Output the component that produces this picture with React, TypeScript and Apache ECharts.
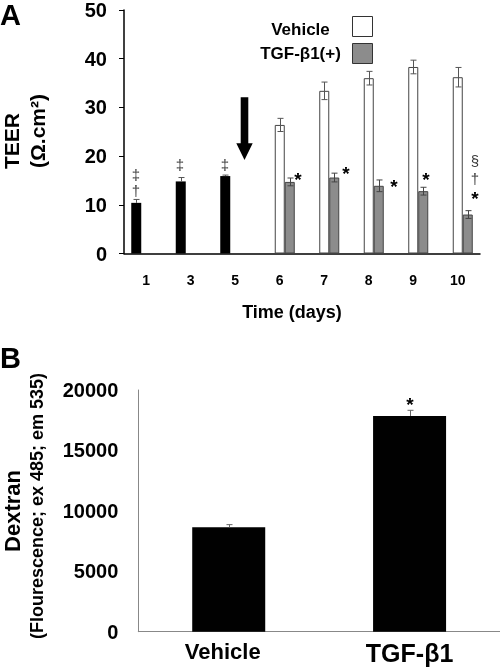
import React, { useEffect, useRef } from 'react';
import * as echarts from 'echarts';

// ---------- Panel A data (TEER, Ω.cm²) ----------
const days = ['1', '3', '5', '6', '7', '8', '9', '10'];
const pretreat = [10.4, 14.8, 15.9, null, null, null, null, null];
const pretreatErr = [0.7, 0.8, 0.2, null, null, null, null, null];
const vehicle = [null, null, null, 26.4, 33.4, 36.0, 38.3, 36.2];
const vehicleErr = [null, null, null, 1.35, 1.8, 1.4, 1.4, 2.0];
const tgf = [null, null, null, 14.7, 15.6, 13.9, 12.8, 8.0];
const tgfErr = [null, null, null, 0.8, 0.9, 1.2, 0.8, 0.8];
const teerMin = 0;
const teerMax = 50;
const teerStep = 10;

// significance marks (panel A): text, day index, value height
const markText = ['‡', '†', '‡', '‡', '*', '*', '*', '*', '*', '†', '§'];
const markDay = [0, 0, 1, 2, 3, 4, 5, 6, 7, 7, 7];
const markValue = [16.3, 13.1, 18.3, 18.3, 16.3, 17.6, 14.9, 16.3, 12.4, 15.6, 19.2];

// ---------- Panel B data (Dextran fluorescence) ----------
const groupsB = ['Vehicle', 'TGF-β1'];
const dextran = [8640, 17850];
const dextranErr = [220, 470];
const dextranMin = 0;
const dextranMax = 20000;
const dextranStep = 5000;
const markBText = ['*'];
const markBGroup = [1];
const markBValue = [19250];

// ---------- styles ----------
const FONT = '"Liberation Sans", Arial, Helvetica, sans-serif';
const BAR_W = 10;
const markDx = [-10.5, -10.5, -10.7, -10.3, 18.5, 21.7, 25.2, 12.4, 17.2, 17.2, 17.2];

function errSeries(
  vals: (number | null)[],
  errs: (number | null)[],
  offset: number,
  cap: number,
  color: string,
  both: boolean,
  xAxisIndex: number,
  yAxisIndex: number
) {
  const data = vals
    .map((v, i) => (v == null || errs[i] == null ? null : [i, v, errs[i]]))
    .filter((d) => d !== null);
  return {
    type: 'custom',
    xAxisIndex,
    yAxisIndex,
    z: 10,
    silent: true,
    data,
    renderItem: (_params: any, api: any) => {
      const i = api.value(0);
      const v = api.value(1);
      const e = api.value(2);
      const top = api.coord([i, v + e]);
      const bot = api.coord([i, both ? v - e : v]);
      const x = Math.round(top[0] + offset) + 0.5;
      const style = { stroke: color, lineWidth: 1 };
      const children: any[] = [
        { type: 'line', shape: { x1: x, y1: top[1], x2: x, y2: bot[1] }, style },
        { type: 'line', shape: { x1: x - cap, y1: top[1], x2: x + cap, y2: top[1] }, style },
      ];
      if (both) {
        children.push({ type: 'line', shape: { x1: x - cap, y1: bot[1], x2: x + cap, y2: bot[1] }, style });
      }
      return { type: 'group', children };
    },
  };
}

function markSeries(
  texts: string[],
  cats: number[],
  vals: number[],
  dxs: number[],
  xAxisIndex: number,
  yAxisIndex: number
) {
  return {
    type: 'custom',
    xAxisIndex,
    yAxisIndex,
    z: 11,
    silent: true,
    data: cats.map((c, k) => [c, vals[k]]),
    renderItem: (params: any, api: any) => {
      const k = params.dataIndex;
      const p = api.coord([api.value(0), api.value(1)]);
      const t = texts[k];
      const isStar = t === '*';
      return {
        type: 'text',
        x: Math.round(p[0] + dxs[k]),
        y: Math.round(p[1] + (isStar ? 5 : 0)),
        style: {
          text: t,
          fill: isStar ? '#000' : '#3a3a3a',
          font: isStar ? `bold 19px ${FONT}` : `15px ${FONT}`,
          align: 'center',
          verticalAlign: 'middle',
        },
      };
    },
  };
}

export default function App() {
  const ref = useRef<HTMLDivElement>(null);

  useEffect(() => {
    if (!ref.current) return;
    const chart = echarts.init(ref.current, undefined, { renderer: 'svg' });

    const option: any = {
      animation: false,
      backgroundColor: '#fff',
      textStyle: { fontFamily: FONT },
      grid: [
        { left: 124, top: 7, width: 356, height: 246.5 },
        { left: 138.3, top: 390, width: 361.7, height: 241.7 },
      ],
      xAxis: [
        {
          type: 'category',
          gridIndex: 0,
          data: days,
          axisLine: { lineStyle: { color: '#000', width: 1.5 } },
          axisTick: { show: false },
          axisLabel: { margin: 19, color: '#000', fontWeight: 'bold', fontSize: 14, fontFamily: FONT },
        },
        {
          type: 'category',
          gridIndex: 1,
          data: groupsB,
          axisLine: { lineStyle: { color: '#888', width: 1 } },
          axisTick: { show: false },
          axisLabel: {
            margin: 9,
            color: '#000',
            formatter: (v: string) => (v === 'Vehicle' ? `{a|${v}}` : `{b|${v}}`),
            rich: {
              a: { fontSize: 22, fontWeight: 'bold', fontFamily: FONT, color: '#000', padding: [0, 12, 0, 0] },
              b: { fontSize: 25, fontWeight: 'bold', fontFamily: FONT, color: '#000' },
            },
          },
        },
      ],
      yAxis: [
        {
          type: 'value',
          gridIndex: 0,
          min: teerMin,
          max: teerMax,
          interval: teerStep,
          splitLine: { show: false },
          axisLine: { show: true, lineStyle: { color: '#000', width: 1.5 } },
          axisTick: { show: true, length: 5, lineStyle: { color: '#000' } },
          axisLabel: { margin: 17, color: '#000', fontWeight: 'bold', fontSize: 20, fontFamily: FONT },
        },
        {
          type: 'value',
          gridIndex: 1,
          min: dextranMin,
          max: dextranMax,
          interval: dextranStep,
          splitLine: { show: false },
          axisLine: { show: true, lineStyle: { color: '#888', width: 1 } },
          axisTick: { show: false },
          axisLabel: {
            margin: 20,
            color: '#000',
            fontWeight: 'bold',
            fontSize: 20,
            fontFamily: FONT,
            formatter: (v: number) => String(v),
          },
        },
      ],
      series: [
        {
          name: 'Pre-treatment',
          type: 'bar',
          xAxisIndex: 0,
          yAxisIndex: 0,
          data: pretreat,
          barWidth: BAR_W,
          barGap: '0%',
          itemStyle: { color: '#000' },
        },
        {
          name: 'Vehicle',
          type: 'bar',
          xAxisIndex: 0,
          yAxisIndex: 0,
          data: vehicle,
          barWidth: BAR_W,
          barGap: '0%',
          itemStyle: { color: '#fff', borderColor: '#444', borderWidth: 1 },
        },
        {
          name: 'TGF-β1(+)',
          type: 'bar',
          xAxisIndex: 0,
          yAxisIndex: 0,
          data: tgf,
          barWidth: BAR_W,
          barGap: '0%',
          itemStyle: { color: '#8c8c8c', borderColor: '#444', borderWidth: 1 },
        },
        errSeries(pretreat, pretreatErr, -BAR_W, 3, '#555', false, 0, 0),
        errSeries(vehicle, vehicleErr, 0, 3, '#555', true, 0, 0),
        errSeries(tgf, tgfErr, BAR_W, 3, '#444', true, 0, 0),
        markSeries(markText, markDay, markValue, markDx, 0, 0),
        {
          name: 'Dextran',
          type: 'bar',
          xAxisIndex: 1,
          yAxisIndex: 1,
          data: dextran,
          barWidth: 73,
          itemStyle: { color: '#000' },
        },
        errSeries(dextran, dextranErr, 0, 3, '#666', false, 1, 1),
        markSeries(markBText, markBGroup, markBValue, [0], 1, 1),
      ],
      graphic: [
        // panel letters
        { type: 'text', x: 0, y: 15, style: { text: 'A', font: `bold 29px ${FONT}`, fill: '#000', align: 'left', verticalAlign: 'middle' } },
        { type: 'text', x: 0, y: 358, style: { text: 'B', font: `bold 29px ${FONT}`, fill: '#000', align: 'left', verticalAlign: 'middle' } },
        // panel A axis titles
        { type: 'text', x: 11, y: 141, rotation: Math.PI / 2, style: { text: 'TEER', font: `bold 21px ${FONT}`, fill: '#000', align: 'center', verticalAlign: 'middle' } },
        { type: 'text', x: 37, y: 131, rotation: Math.PI / 2, style: { text: '(Ω.cm²)', font: `bold 21px ${FONT}`, fill: '#000', align: 'center', verticalAlign: 'middle' } },
        { type: 'text', x: 292, y: 312, style: { text: 'Time (days)', font: `bold 18px ${FONT}`, fill: '#000', align: 'center', verticalAlign: 'middle' } },
        // legend
        { type: 'text', x: 300.5, y: 29.5, style: { text: 'Vehicle', font: `bold 17px ${FONT}`, fill: '#000', align: 'center', verticalAlign: 'middle' } },
        { type: 'text', x: 300.5, y: 53, style: { text: 'TGF-β1(+)', font: `bold 17px ${FONT}`, fill: '#000', align: 'center', verticalAlign: 'middle' } },
        { type: 'rect', shape: { x: 352.5, y: 16.5, width: 20, height: 20 }, style: { fill: '#fff', stroke: '#333', lineWidth: 1 } },
        { type: 'rect', shape: { x: 352.5, y: 43.5, width: 20, height: 20 }, style: { fill: '#8c8c8c', stroke: '#333', lineWidth: 1 } },
        // treatment arrow
        {
          type: 'polygon',
          shape: {
            points: [
              [240.7, 97.3], [248.3, 97.3], [248.3, 143.3], [252.7, 143.3],
              [244.5, 160], [236.3, 143.3], [240.7, 143.3],
            ],
          },
          style: { fill: '#000' },
        },
        // panel B axis titles
        { type: 'text', x: 12, y: 511, rotation: Math.PI / 2, style: { text: 'Dextran', font: `bold 22px ${FONT}`, fill: '#000', align: 'center', verticalAlign: 'middle' } },
        { type: 'text', x: 37, y: 506, rotation: Math.PI / 2, style: { text: '(Flourescence; ex 485; em 535)', font: `bold 18px ${FONT}`, fill: '#000', align: 'center', verticalAlign: 'middle' } },
      ],
    };

    chart.setOption(option);
    return () => {
      chart.dispose();
    };
  }, []);

  return (
    <div
      ref={ref}
      style={{
        position: 'absolute',
        left: 0,
        top: 0,
        width: 500,
        height: 672,
        background: '#fff',
        opacity: 0.999,
        willChange: 'transform',
      }}
    />
  );
}
